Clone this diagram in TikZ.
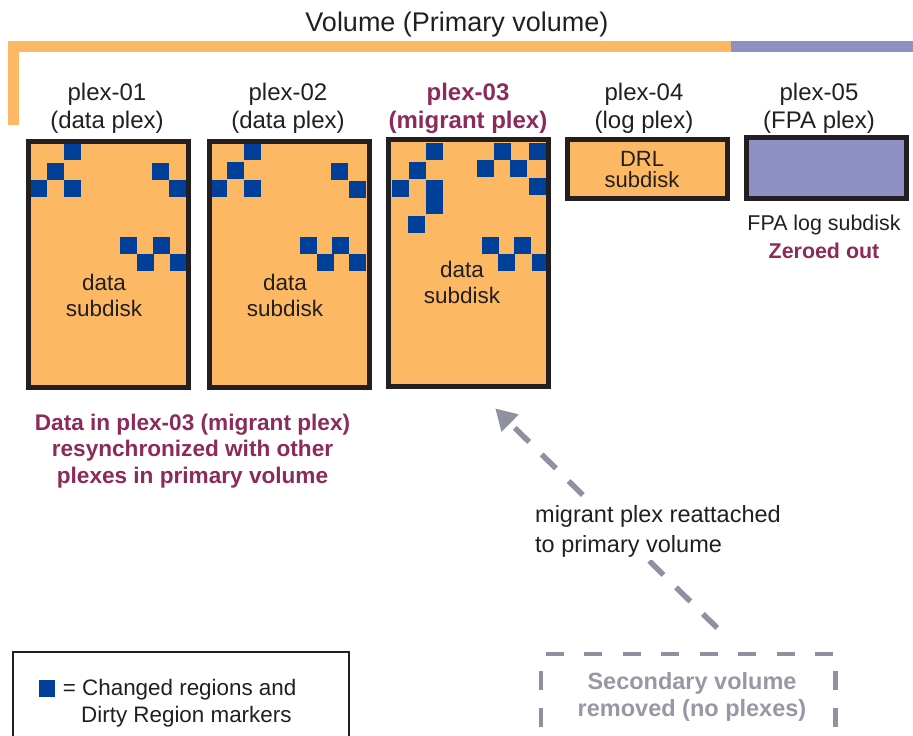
\documentclass[tikz,border=0pt]{standalone}
\usepackage{fontspec}
\setmainfont{Liberation Sans}
\usetikzlibrary{arrows.meta}
\definecolor{plexorange}{RGB}{252,184,99}
\definecolor{fpapurple}{RGB}{142,144,196}
\definecolor{dirtyblue}{RGB}{0,64,152}
\definecolor{rimcol}{RGB}{35,31,32}
\definecolor{ink}{RGB}{35,31,32}
\definecolor{maroon}{RGB}{140,42,90}
\definecolor{arrowgray}{RGB}{142,146,160}
\definecolor{secgray}{RGB}{150,152,165}
\begin{document}
\begin{tikzpicture}[x=1pt,y=-1pt,
  txt/.style={inner sep=0pt, text=ink, align=center},
  plexbox/.style={fill=plexorange, minimum width=160pt, minimum height=#1,
    inner sep=0pt, anchor=north west},
  rim/.style={draw=rimcol, line width=5pt},
  dirty/.style={fill=dirtyblue},
  secline/.style={draw=arrowgray, line width=4.5pt},
  flow/.style={draw=arrowgray, line width=5.5pt, dash pattern=on 20pt off 17.8pt,
    -{Triangle[length=21pt,width=23pt]}},
]
\useasboundingbox (0,0) rectangle (913,736);
\clip (0,0) rectangle (913,736);

% volume bracket
\fill[plexorange] (8,41.3) rectangle (731,51.7);
\fill[plexorange] (8,41.3) rectangle (18.7,125);
\fill[fpapurple] (731,41.3) rectangle (913,51.7);
\node[txt, anchor=base, font=\fontsize{27}{32}\selectfont] (vol) at (457,31) {Volume (Primary volume)};

% plexes
\node[plexbox=245.8pt] (p1) at (28.5,141.7) {};
\node[plexbox=245.8pt] (p2) at (209,141.7) {};
\node[plexbox=246pt] (p3) at (388.5,139.8) {};
\node[plexbox=58.6pt] (p4) at (567,139.2) {};
\node[plexbox=60.3pt, fill=fpapurple] (p5) at (746,137.5) {};

% dirty regions
\foreach \x/\y in {64/143,47/163,30/180,64/180,152/163,169/180,
                   120/237,136.5/254,153/237,170/254,
                   244/143,227/162,210/180,244/180,331/163,349/181,
                   300/237,316.5/254,332/237,349/254,
                   426/143,409/162,392/180,408/216,
                   494/143,529/143,477/160,510/160,529/178,
                   482/237,498/254,514/237,532/254}
  \fill[dirty] (\x,\y) rectangle ++(17,17);
\fill[dirty] (426,180) rectangle ++(17,34);

\foreach \n in {p1,p2,p3,p4,p5}
  \draw[rim] (\n.north west) rectangle (\n.south east);

% plex labels (anchored on the baseline of the last line)
\begin{scope}[every node/.style={txt, anchor=base, font=\fontsize{24}{28.3}\selectfont}]
\node (l1) at (107,128.3) {plex-01\\(data plex)};
\node (l2) at (288,128.3) {plex-02\\(data plex)};
\node[text=maroon, font=\fontsize{24}{28.3}\selectfont\bfseries] (l3) at (468,128.3) {plex-03\\(migrant plex)};
\node (l4) at (644,128.3) {plex-04\\(log plex)};
\node (l5) at (819,128.3) {plex-05\\(FPA plex)};
\end{scope}

% subdisk texts
\begin{scope}[every node/.style={txt, anchor=base, font=\fontsize{22.5}{26}\selectfont}]
\node (d1) at (104,316) {data\\subdisk};
\node (d2) at (285,316) {data\\subdisk};
\node (d3) at (462,303) {data\\subdisk};
\end{scope}
\node[txt, anchor=base, font=\fontsize{22}{21.3}\selectfont] (d4) at (642,187.3) {DRL\\subdisk};
\node[txt, anchor=base, font=\fontsize{21.4}{28}\selectfont] (d5) at (824,258)
  {FPA log subdisk\\{\color{maroon}\bfseries Zeroed out}};

% resync note
\node[txt, anchor=base, text=maroon, font=\fontsize{22.6}{26.7}\selectfont\bfseries] (note) at (192.5,483.4)
  {Data in plex-03 (migrant plex)\\resynchronized with other\\plexes in primary volume};

% secondary volume
\node[minimum width=294pt, minimum height=120pt, inner sep=0pt, anchor=north west] (sec) at (541,654) {};
\draw[secline, dash pattern=on 18pt off 20.43pt] ([xshift=5pt]sec.north west) -- ([xshift=-2pt]sec.north east);
\draw[secline, dash pattern=on 18.5pt off 18.5pt] ([yshift=-17pt]sec.north west) -- (sec.south west);
\draw[secline, dash pattern=on 18.5pt off 18.5pt] ([yshift=-17pt]sec.north east) -- (sec.south east);
\node[txt, anchor=base, text=secgray, font=\fontsize{23.5}{27.7}\selectfont\bfseries] (sectext) at (692,716.7)
  {Secondary volume\\removed (no plexes)};

% reattach arrow
\coordinate (tail) at ([shift={(29,-26)}]sec.north);
\coordinate (tip) at ([shift={(26.5,22.2)}]p3.south);
\draw[flow] (tail) -- (tip);
\node[txt, align=left, anchor=base west, fill=white, inner sep=3pt,
  font=\fontsize{23.5}{29.5}\selectfont] (reattach) at (532,552.2)
  {migrant plex reattached\\to primary volume};

% legend
\node[draw=rimcol, line width=2.2pt, minimum width=336pt, minimum height=120pt,
  inner sep=0pt, anchor=north west] (legend) at (12,651) {};
\node[dirty, minimum width=16.7pt, minimum height=16.7pt, inner sep=0pt, anchor=north west] (key) at (38.3,680) {};
\node[txt, align=left, anchor=base west, font=\fontsize{22.4}{27}\selectfont] (keytext) at (62.7,722)
  {= Changed regions and\\\hspace*{18.3pt}Dirty Region markers};
\end{tikzpicture}
\end{document}
